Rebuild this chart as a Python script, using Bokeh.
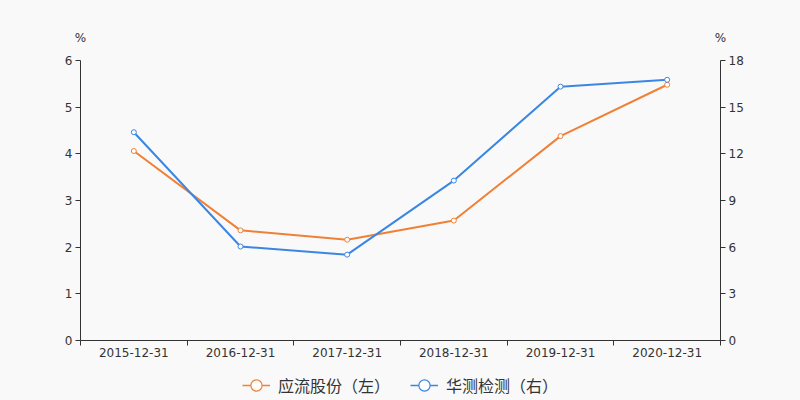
from bokeh.plotting import figure
from bokeh.layouts import column
from bokeh.models import (Range1d, LinearAxis, FixedTicker, Legend, LegendItem,
                          ColumnDataSource)
from bokeh.embed import file_html
from bokeh.resources import INLINE

dates = ["2015-12-31", "2016-12-31", "2017-12-31", "2018-12-31", "2019-12-31", "2020-12-31"]
yingliu = [4.06, 2.36, 2.16, 2.57, 4.38, 5.48]      # left axis, %
huace = [13.39, 6.04, 5.52, 10.28, 16.32, 16.76]    # right axis, %
left_ticks = [0, 1, 2, 3, 4, 5, 6]
right_ticks = [0, 3, 6, 9, 12, 15, 18]
unit = "%"
name_left = "应流股份（左）"
name_right = "华测检测（右）"

ORANGE = "#f08036"
BLUE = "#3a87e3"
BG = "#f9f9f9"
TXT = "#333333"
FONT = "DejaVu Sans"

n = len(dates)
xs = [i + 0.5 for i in range(n)]

p = figure(frame_width=640, frame_height=280, output_backend="svg", toolbar_location=None,
           x_range=Range1d(0, n), y_range=Range1d(0, 6),
           min_border_left=80, min_border_right=80, min_border_top=60, min_border_bottom=30,
           x_axis_type=None, y_axis_type=None)
p.background_fill_color = BG
p.border_fill_color = BG
p.outline_line_color = None
p.grid.visible = False
p.extra_y_ranges = {"right": Range1d(0, 18)}

def style_axis(ax):
    ax.axis_line_color = TXT
    ax.major_tick_line_color = TXT
    ax.minor_tick_line_color = TXT
    ax.major_label_text_color = TXT
    ax.major_label_text_font = FONT
    ax.major_label_text_font_size = "12px"
    ax.major_tick_in = 0
    ax.major_tick_out = 5
    ax.minor_tick_in = 0
    ax.minor_tick_out = 0

xaxis = LinearAxis(ticker=FixedTicker(ticks=xs, minor_ticks=list(range(n + 1))),
                   major_label_overrides={x: d for x, d in zip(xs, dates)})
style_axis(xaxis)
xaxis.major_tick_out = 0
xaxis.minor_tick_out = 5
xaxis.major_label_standoff = 2
p.add_layout(xaxis, "below")

laxis = LinearAxis(ticker=FixedTicker(ticks=left_ticks, minor_ticks=[]))
style_axis(laxis)
laxis.major_label_standoff = 3
p.add_layout(laxis, "left")

raxis = LinearAxis(y_range_name="right", ticker=FixedTicker(ticks=right_ticks, minor_ticks=[]))
style_axis(raxis)
raxis.major_label_standoff = 3
p.add_layout(raxis, "right")

# unit labels above both value axes
uaxis = LinearAxis(ticker=FixedTicker(ticks=[0, n], minor_ticks=[]),
                   major_label_overrides={0: unit, n: unit})
style_axis(uaxis)
uaxis.axis_line_color = None
uaxis.major_tick_line_color = None
uaxis.major_label_standoff = 11
p.add_layout(uaxis, "above")

src_l = ColumnDataSource(dict(x=xs, y=yingliu))
src_r = ColumnDataSource(dict(x=xs, y=huace))

p.line("x", "y", source=src_l, line_color=ORANGE, line_width=2)
p.scatter("x", "y", source=src_l, size=5, line_color=ORANGE, fill_color="white", line_width=1)
p.line("x", "y", source=src_r, line_color=BLUE, line_width=2, y_range_name="right")
p.scatter("x", "y", source=src_r, size=5, line_color=BLUE, fill_color="white", line_width=1,
          y_range_name="right")

# legend strip below the chart; its renderers reuse the series sources, whose
# (positive) values fall outside this strip's negative y-range, so only the keys show
leg = figure(width=800, height=30, output_backend="svg", toolbar_location=None,
             min_border=0, x_axis_type=None, y_axis_type=None,
             x_range=Range1d(0, n), y_range=Range1d(-2, -1))
leg.background_fill_color = BG
leg.border_fill_color = BG
leg.outline_line_color = None
leg.grid.visible = False

lg_l1 = leg.line("x", "y", source=src_l, line_color=ORANGE, line_width=1.5)
lg_l2 = leg.scatter("x", "y", source=src_l, size=13, line_color=ORANGE, fill_color="white",
                    line_width=1.2)
lg_r1 = leg.line("x", "y", source=src_r, line_color=BLUE, line_width=1.5)
lg_r2 = leg.scatter("x", "y", source=src_r, size=13, line_color=BLUE, fill_color="white",
                    line_width=1.2)

legend = Legend(items=[LegendItem(label=name_left, renderers=[lg_l1, lg_l2]),
                       LegendItem(label=name_right, renderers=[lg_r1, lg_r2])],
                orientation="horizontal", location="center",
                background_fill_alpha=0, border_line_color=None,
                label_text_font="Noto Sans CJK SC", label_text_font_size="16px",
                label_text_color=TXT, glyph_width=28, glyph_height=28, label_height=28,
                padding=0, margin=0, spacing=20, label_standoff=8)
leg.add_layout(legend, "center")

layout = column(p, leg, spacing=0, styles={"background-color": BG})
open("out.html", "w").write(file_html(layout, INLINE))
